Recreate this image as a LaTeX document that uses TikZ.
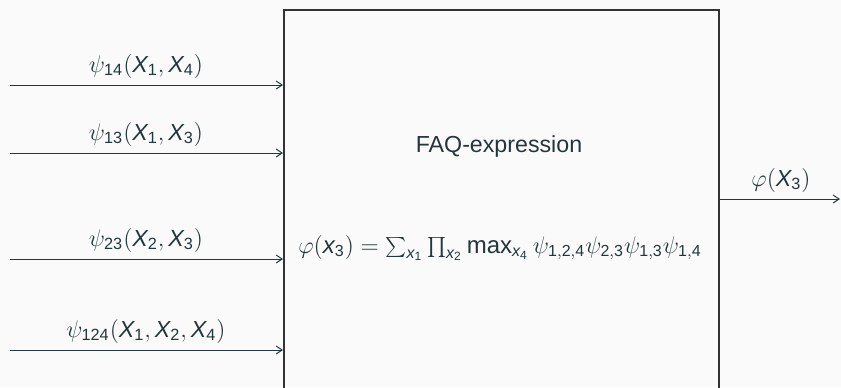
\documentclass[tikz,border=0pt]{standalone}
\usepackage{fontspec}
\setmainfont{Liberation Sans}
\usetikzlibrary{arrows.meta}
\definecolor{mteal}{HTML}{23373B}
\definecolor{bgc}{HTML}{FAFAFA}
\newcommand{\vX}{\mathit{X}}
\newcommand{\vx}{\mathit{x}}
\newcommand{\nm}[1]{\mathrm{#1}}
\begin{document}
\begin{tikzpicture}[x=0.5pt,y=-0.5pt,
  every node/.style={font=\fontsize{11.6}{14}\selectfont, text=mteal},
  conn/.style={draw=mteal, line width=0.5pt, -{Straight Barb[length=3pt,width=4pt]}},
  lbl/.style={inner sep=0pt, anchor=base}]
\fill[bgc] (0,0) rectangle (841,387);
\useasboundingbox (0,0) rectangle (841,387);
\draw[black!80, line width=0.7pt] (284,10) rectangle (719,400);
\coordinate (boxleft14) at (283,85);
\coordinate (boxleft13) at (283,153);
\coordinate (boxleft23) at (283,259);
\coordinate (boxleft124) at (283,350);
\coordinate (in14) at (10,85);
\coordinate (in13) at (10,153);
\coordinate (in23) at (10,259);
\coordinate (in124) at (10,350);
\coordinate (outs) at (720,199);
\coordinate (oute) at (840,199);
\draw[conn] (in14) -- (boxleft14);
\draw[conn] (in13) -- (boxleft13);
\draw[conn] (in23) -- (boxleft23);
\draw[conn] (in124) -- (boxleft124);
\draw[conn] (outs) -- (oute);
\node[lbl] (l14) at (146,72) {$\psi_{\nm{14}}(\vX_{\nm1},\vX_{\nm4})$};
\node[lbl] (l13) at (146,140) {$\psi_{\nm{13}}(\vX_{\nm1},\vX_{\nm3})$};
\node[lbl] (l23) at (146,246) {$\psi_{\nm{23}}(\vX_{\nm2},\vX_{\nm3})$};
\node[lbl] (l124) at (146,337) {$\psi_{\nm{124}}(\vX_{\nm1},\vX_{\nm2},\vX_{\nm4})$};
\node[lbl] (lout) at (781,186) {$\varphi(\vX_{\nm3})$};
\node[lbl] (faq) at (499,152) {FAQ-expression};
\node[lbl, font=\fontsize{12}{14}\selectfont] (formula) at (500,253) {$\varphi(\vx_{\nm3})=\sum_{\vx_{\nm1}}\prod_{\vx_{\nm2}}\max_{\vx_{\nm4}}\psi_{\nm{1,2,4}}\psi_{\nm{2,3}}\psi_{\nm{1,3}}\psi_{\nm{1,4}}$};
\end{tikzpicture}
\end{document}
